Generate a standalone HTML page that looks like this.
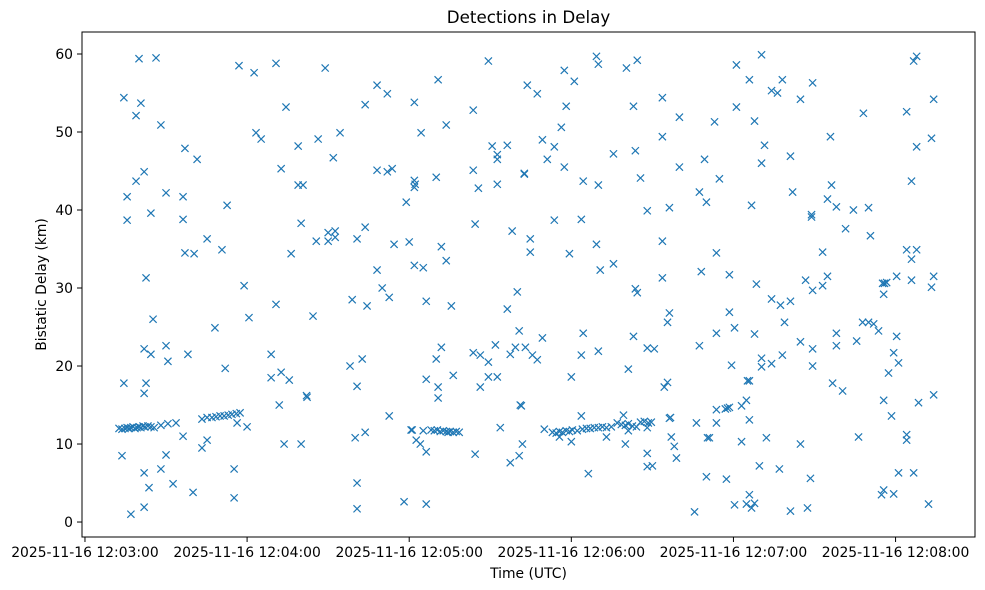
<!DOCTYPE html>
<html><head><meta charset="utf-8"><style>
html,body{margin:0;padding:0;background:#fff;}
svg{display:block;font-family:"DejaVu Sans","Liberation Sans",sans-serif;}
</style></head><body>
<svg id="chart" width="985" height="590" viewBox="0 0 985 590" xmlns="http://www.w3.org/2000/svg">
<rect x="0" y="0" width="985" height="590" fill="#fff"/>
<text x="528.5" y="23" text-anchor="middle" font-size="16.7" fill="#000">Detections in Delay</text>
<text x="528.5" y="578" text-anchor="middle" font-size="13.9" fill="#000">Time (UTC)</text>
<text transform="translate(46,284.5) rotate(-90)" text-anchor="middle" font-size="13.9" fill="#000">Bistatic Delay (km)</text>
<g id="marks"></g>
<g id="axes"></g>
</svg>
<script>
// seconds after 12:03:00 UTC
const xTickSeconds = [0, 60, 120, 180, 240, 300];
const xTickLabels = ["2025-11-16 12:03:00","2025-11-16 12:04:00","2025-11-16 12:05:00","2025-11-16 12:06:00","2025-11-16 12:07:00","2025-11-16 12:08:00"];
const yTicks = [0, 10, 20, 30, 40, 50, 60];
const times = [
20.0,26.3,57.0,62.6,14.4,20.7,18.9,28.1,63.3,37.0,41.5,21.9,18.9,15.6,30.0,36.3,52.6,15.6,24.4,36.3,45.2,50.7,37.0,40.4,22.6,58.9,25.2,60.7,48.1,21.9,24.4,30.0,30.7,38.1,51.9,14.4,22.6,21.9,
12.6,13.7,14.8,15.6,16.3,17.0,17.8,18.5,19.3,20.0,20.7,21.5,22.2,23.3,24.4,25.6,
28.1,30.7,33.7,36.3,43.3,45.2,47.0,48.5,50.0,51.5,53.0,54.4,56.0,57.4,56.3,60.0,45.2,43.3,13.7,30.0,21.9,28.1,55.2,23.7,32.6,40.0,55.2,17.0,21.9,
70.7,88.9,108.1,111.9,121.9,74.4,103.7,65.2,78.9,86.3,94.4,91.9,72.6,108.1,111.9,113.7,121.9,122.2,121.9,78.9,80.7,118.9,80.0,103.7,85.6,90.0,92.6,90.0,92.6,100.7,114.4,120.0,76.3,121.9,108.1,110.0,112.6,70.7,98.9,104.4,84.4,68.9,72.6,75.6,68.9,98.1,102.6,100.7,82.0,82.2,71.9,112.6,120.7,122.6,100.0,103.7,73.7,80.0,100.7,118.1,100.7,
149.3,130.7,177.4,181.1,163.7,167.4,143.7,178.1,124.4,133.7,176.3,150.7,156.3,152.6,152.6,169.3,173.7,171.1,177.4,143.7,130.0,145.6,152.6,162.6,162.6,144.4,158.1,164.8,164.8,173.7,179.3,131.9,133.7,125.2,126.3,135.6,160.0,156.3,160.7,169.3,131.9,130.0,143.7,146.3,149.3,151.9,157.4,159.3,163.0,165.6,167.4,126.3,136.3,130.7,130.7,146.3,149.3,152.6,180.0,161.5,161.1,
128.1,129.3,130.4,131.5,132.6,133.7,134.4,135.2,136.3,137.4,138.5,121.1,125.2,124.1,126.3,153.7,170.0,173.0,174.4,175.6,176.7,178.1,179.3,180.4,182.2,175.6,180.0,144.4,161.9,160.7,157.4,126.3,
189.3,190.0,200.4,204.4,203.0,213.7,220.0,213.7,195.6,203.7,220.0,229.3,184.4,190.0,205.6,227.4,230.0,208.1,216.3,183.7,189.3,213.7,190.7,195.6,213.7,228.1,203.7,204.4,216.3,215.6,184.4,203.0,183.7,190.0,208.1,210.7,227.4,201.1,215.6,214.4,183.7,199.3,
184.1,185.6,187.0,188.5,190.0,191.5,193.0,194.8,197.0,198.5,200.0,201.1,202.6,204.1,205.6,207.0,208.5,209.6,
193.0,201.1,208.1,216.3,216.7,226.3,230.4,217.0,218.1,218.9,200.0,208.1,208.1,210.0,186.3,230.0,225.6,
250.4,241.1,245.9,258.1,269.3,254.1,256.3,264.8,241.1,233.0,247.8,275.9,251.5,261.1,250.4,234.8,261.9,246.7,274.8,276.3,278.1,268.9,268.9,233.7,273.0,238.5,248.5,266.7,269.3,273.0,274.8,254.1,257.4,261.1,238.5,258.9,233.7,240.4,247.8,264.8,269.3,278.1,278.1,239.3,250.4,250.4,254.1,258.1,269.3,245.2,245.9,276.7,244.8,243.0,237.8,237.0,238.5,233.7,233.7,245.9,231.1,243.0,252.2,264.8,249.6,257.0,237.4,268.5,245.9,240.4,244.8,247.8,246.7,261.1,267.4,
307.8,306.7,314.1,288.1,304.1,313.3,307.8,305.9,284.4,290.0,281.5,290.7,304.1,307.8,305.9,300.4,305.9,314.1,313.3,295.9,295.2,296.7,295.6,287.8,290.0,291.9,293.7,300.4,285.6,299.3,301.1,297.4,280.4,295.6,308.5,314.1,298.5,286.3,304.1,304.1,301.1,306.7,295.6,294.8,299.3,312.2
];
const delays = [
59.4,59.5,58.5,57.6,54.4,53.7,52.1,50.9,49.9,47.9,46.5,44.9,43.7,41.7,42.2,41.7,40.6,38.7,39.6,38.8,36.3,34.9,34.5,34.4,31.3,30.3,26.0,26.2,24.9,22.2,21.5,22.6,20.6,21.5,19.7,17.8,17.8,16.5,
12.0,11.9,12.0,12.1,12.0,12.1,12.2,12.0,12.1,12.2,12.1,12.3,12.2,12.3,12.2,12.1,
12.4,12.6,12.7,11.0,13.2,13.4,13.4,13.5,13.6,13.6,13.7,13.8,13.9,14.0,12.7,12.2,10.5,9.5,8.5,8.6,6.3,6.8,6.8,4.4,4.9,3.8,3.1,1.0,1.9,
58.8,58.2,56.0,54.9,53.8,53.2,53.5,49.1,48.2,49.1,49.9,46.7,45.3,45.1,44.9,45.3,43.8,43.3,42.9,43.2,43.2,41.0,38.3,37.8,36.0,37.1,37.3,36.0,36.5,36.3,35.6,35.9,34.4,32.9,32.3,30.0,28.8,27.9,28.5,27.7,26.4,21.5,19.2,18.2,18.5,20.0,20.9,17.4,16.2,16.0,15.0,13.6,11.8,10.5,10.8,11.5,10.0,10.0,5.0,2.6,1.7,
59.1,56.7,57.9,56.5,56.0,54.9,52.8,53.3,49.9,50.9,50.6,48.2,48.3,47.1,46.5,49.0,48.1,46.5,45.5,45.1,44.2,42.8,43.3,44.7,44.6,38.2,37.3,36.3,34.6,38.7,34.4,35.3,33.5,32.6,28.3,27.7,29.5,27.3,24.5,23.6,22.4,20.9,21.7,21.4,20.5,22.7,21.5,22.4,22.4,21.4,20.8,18.3,18.8,17.3,15.9,17.3,18.6,18.6,18.6,14.9,15.0,
11.8,11.7,11.8,11.6,11.7,11.6,11.5,11.6,11.5,11.6,11.5,11.8,11.7,10.0,9.0,12.1,11.9,11.5,11.4,11.6,11.5,11.7,11.6,11.8,11.7,10.9,10.3,8.7,10.0,8.5,7.6,2.3,
59.7,58.7,58.2,59.2,53.3,54.4,51.9,49.4,47.2,47.6,45.5,46.5,43.7,43.2,44.1,42.3,41.0,39.9,40.3,38.8,35.6,36.0,32.3,33.1,31.3,32.1,29.9,29.4,26.8,25.6,24.2,23.8,21.4,21.9,22.3,22.2,22.6,19.6,17.9,17.3,13.6,13.7,
11.9,12.0,12.0,12.1,12.1,12.2,12.1,12.2,12.7,12.5,12.4,12.6,12.3,12.2,12.8,12.9,12.7,12.8,
10.9,11.7,12.1,13.3,13.4,12.7,10.8,10.9,9.7,8.2,10.0,8.8,7.1,7.2,6.2,5.8,1.3,
59.9,58.6,56.7,56.7,56.3,55.3,55.0,54.2,53.2,51.3,51.4,49.4,48.3,46.9,46.0,44.0,42.3,40.6,41.4,43.2,40.4,39.4,39.1,34.5,34.6,31.7,30.5,31.0,29.7,30.3,31.5,28.6,27.8,28.3,26.9,25.6,24.2,24.9,24.1,23.1,22.2,24.2,22.6,20.1,21.0,19.9,20.3,21.4,20.0,18.1,18.1,17.8,15.6,14.9,14.6,14.5,14.7,14.4,12.7,13.1,10.8,10.3,10.8,10.0,7.2,6.8,5.5,5.6,3.5,2.2,2.3,2.4,1.8,1.4,1.8,
59.7,59.1,54.2,52.4,52.6,49.2,48.1,43.7,40.0,40.3,37.6,36.7,34.9,34.9,33.7,31.5,31.0,31.5,30.1,30.6,30.6,30.7,29.2,25.6,25.6,25.4,24.5,23.8,23.2,21.7,20.4,19.1,16.8,15.6,15.3,16.3,13.6,10.9,11.2,10.5,6.3,6.3,4.1,3.5,3.6,2.3
];

const NS = "http://www.w3.org/2000/svg";
const L = 82, T = 32, R = 975, B = 537;
const xMin = -1.1, xMax = 329.4, yMin = -1.92, yMax = 62.82;
function xScale(v){ return L + (v - xMin) / (xMax - xMin) * (R - L); }
function yScale(v){ return B - (v - yMin) / (yMax - yMin) * (B - T); }
function mk(tag, attrs){ const e = document.createElementNS(NS, tag); for (const k in attrs) e.setAttribute(k, attrs[k]); return e; }

const marks = document.getElementById('marks');
const n = Math.min(times.length, delays.length);
for (let i = 0; i < n; i++) {
  const cx = xScale(times[i]), cy = yScale(delays[i]), h = 3.6;
  const p = mk('path', {d: `M${cx-h},${cy-h}L${cx+h},${cy+h}M${cx-h},${cy+h}L${cx+h},${cy-h}`, stroke: '#1f77b4', 'stroke-width': 1.2, fill: 'none'});
  
  
  marks.appendChild(p);
}

const axes = document.getElementById('axes');
const frame = mk('rect', {x: L, y: T, width: R - L, height: B - T, fill: 'none', stroke: '#000', 'stroke-width': 1});


axes.appendChild(frame);

xTickSeconds.forEach((s, i) => {
  const x = xScale(s);
  const t = mk('line', {x1: x, x2: x, y1: B, y2: B + 5, stroke: '#000', 'stroke-width': 1});
  
  
  axes.appendChild(t);
  const lb = mk('text', {x: x, y: B + 20, 'text-anchor': 'middle', 'font-size': 13.9, fill: '#000'});
  lb.textContent = xTickLabels[i];
  
  
  axes.appendChild(lb);
});
yTicks.forEach(v => {
  const y = yScale(v);
  const t = mk('line', {x1: L - 5, x2: L, y1: y, y2: y, stroke: '#000', 'stroke-width': 1});
  
  
  axes.appendChild(t);
  const lb = mk('text', {x: L - 9, y: y + 5, 'text-anchor': 'end', 'font-size': 13.9, fill: '#000'});
  lb.textContent = String(v);
  
  
  axes.appendChild(lb);
});
</script>
</body></html>
